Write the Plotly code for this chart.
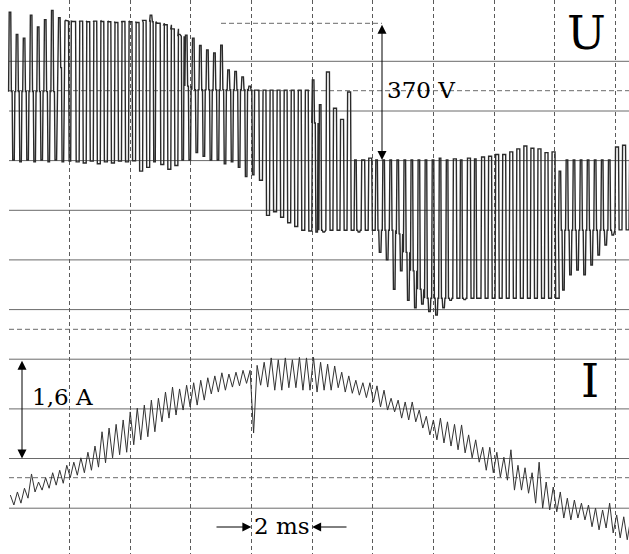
import plotly.graph_objects as go

# ---------------- data ----------------
# carrier (switching) period of the inverter, ms
carrier_period_ms = 0.2323

# U: per switching cycle -> resting level, upward excursion, downward excursion (V)
u_base = [185, 185, 185, 185, 185, 185, 185, 250, 376, 375,
          376, 374, 376, 375, 374, 372, 375, 374, 372, 378,
          374, 370, 366, 355, 335, 200, 190, 190, 190, 190,
          190, 190, 190, 190, 189, 189, 189, 189, 189, 189,
          189, 189, 189, 100, -190, -190, -190, -190, -190, -190,
          -190, -190, -190, -190, -190, -200, -250, -300, -350, -374,
          -374, -374, -374, -374, -374, -374, -374, -374, -374, -374,
          -374, -374, -374, -374, -374, -374, -374, -374, -190, -190,
          -190, -190, -190, -190, -190, -190, -189, -189, -189]
u_hi = [400, 340, 330, 392, 360, 380, 405, 385, 378, 375,
        376, 374, 376, 375, 374, 372, 375, 374, 372, 378,
        392, 370, 366, 355, 340, 338, 330, 310, 298, 290,
        311, 244, 240, 225, 200, 189, 189, 189, 189, 189,
        189, 189, 189, 217, 150, 238, 140, 110, 184, 0,
        0, 5, 0, 0, 0, 0, 0, 0, 0, 0,
        0, 5, 0, 3, 0, 5, 3, 8, 10, 15,
        15, 22, 30, 38, 32, 30, 20, 22, -30, 0,
        0, 0, 0, 0, 0, 0, 35, 40, 0]
u_lo = [0, -5, 0, -5, 0, -5, 0, -5, -3, -5,
        -8, -3, -10, -5, -8, -3, -5, -2, -30, -20,
        -5, -12, -25, -15, 0, 0, 20, 10, 0, 0,
        -10, -5, -20, -45, -40, -55, -150, -140, -155, -170,
        -180, -190, -192, -195, -195, -190, -190, -190, -190, -195,
        -190, -190, -250, -270, -350, -300, -380, -400, -390, -410,
        -420, -400, -380, -374, -378, -374, -376, -374, -374, -374,
        -374, -374, -374, -374, -374, -374, -374, -374, -352, -311,
        -298, -311, -284, -257, -230, -203, -189, -189, -189]

# I: per switching cycle -> ripple maximum and minimum (A)
i_hi = [-0.28, -0.23, -0.17, 0.06, -0.07, 0.00, 0.08, 0.12, 0.20, 0.25,
        0.32, 0.41, 0.51, 0.74, 0.80, 0.86, 0.93, 1.06, 1.12, 1.17,
        1.25, 1.28, 1.38, 1.46, 1.43, 1.49, 1.53, 1.57, 1.61, 1.64,
        1.69, 1.67, 1.70, 1.73, 1.73, 1.81, 1.86, 1.93, 1.90, 1.93,
        1.90, 1.94, 1.93, 1.94, 1.86, 1.83, 1.80, 1.70, 1.64, 1.57,
        1.53, 1.53, 1.48, 1.41, 1.28, 1.25, 1.22, 1.22, 1.09, 0.99,
        0.93, 0.96, 0.90, 0.86, 0.85, 0.69, 0.61, 0.49, 0.49, 0.41,
        0.33, 0.45, 0.20, 0.16, 0.08, 0.25, -0.07, -0.15, -0.23, -0.33,
        -0.36, -0.41, -0.44, -0.49, -0.52, -0.41, -0.60, -0.63, -0.65]
i_lo = [-0.44, -0.41, -0.33, -0.23, -0.20, -0.17, -0.12, -0.09, 0.00, 0.04,
        0.08, 0.12, 0.17, 0.24, 0.32, 0.37, 0.41, 0.53, 0.61, 0.66,
        0.74, 0.90, 0.96, 1.01, 1.09, 1.14, 1.17, 1.25, 1.35, 1.38,
        1.41, 1.46, 1.48, 1.52, 0.72, 1.49, 1.46, 1.41, 1.41, 1.45,
        1.45, 1.41, 1.41, 1.38, 1.41, 1.41, 1.45, 1.38, 1.36, 1.33,
        1.29, 1.22, 1.14, 1.09, 1.06, 0.96, 0.93, 0.90, 0.80, 0.69,
        0.61, 0.56, 0.51, 0.45, 0.40, 0.32, 0.25, 0.12, 0.08, 0.01,
        -0.04, -0.20, -0.20, -0.25, -0.41, -0.49, -0.52, -0.55, -0.65, -0.68,
        -0.65, -0.68, -0.79, -0.84, -0.81, -0.89, -0.97, -1.00, -0.81]

labels = {"u": "U", "i": "I", "u_scale": "370 V", "i_scale": "1,6 A", "t_scale": "2 ms"}
u_scale_v = 370
i_scale_a = 1.6
t_div_ms = 2

# ---------------- geometry of the picture ----------------
W, H = 629, 554
X0_PX = 8.6                 # t = 0
PX_PER_MS = 60.7 / 2
U0_PX = 160.0               # 0 V
PX_PER_V = 136.7 / 370
I0_PX = 477.7               # 0 A
PX_PER_A = 99.3 / 1.6

x_rng = [(0 - X0_PX) / PX_PER_MS, (W - X0_PX) / PX_PER_MS]
u_rng = [(U0_PX - H) / PX_PER_V, U0_PX / PX_PER_V]
i_rng = [(I0_PX - H) / PX_PER_A, I0_PX / PX_PER_A]


def t_of(px):
    return (px - X0_PX) / PX_PER_MS


def py(px):
    return 1 - px / H


# ---------------- build traces ----------------
P = carrier_period_ms
e = 0.02
ut, uv = [], []
for k, (b, h, l) in enumerate(zip(u_base, u_hi, u_lo)):
    t0 = k * P
    two_level = (b == h) or (b == l)
    w = 0.42 * P if two_level else 0.22 * P
    ut += [t0, t0 + e, t0 + e + w, t0 + 2 * e + w,
           t0 + 0.5 * P, t0 + 0.5 * P + e, t0 + 0.5 * P + e + w, t0 + 0.5 * P + 2 * e + w]
    uv += [b, h, h, b, b, l, l, b]

it, iv = [], []
for k, (h, l) in enumerate(zip(i_hi, i_lo)):
    it += [k * P + 0.25 * P, k * P + 0.75 * P]
    iv += [h, l]

fig = go.Figure()
fig.add_trace(go.Scatter(x=ut, y=uv, mode="lines", line=dict(color="#2a2a2a", width=1.4),
                         yaxis="y", hoverinfo="skip", showlegend=False))
fig.add_trace(go.Scatter(x=it, y=iv, mode="lines", line=dict(color="#333333", width=1),
                         yaxis="y2", hoverinfo="skip", showlegend=False))

# ---------------- grid ----------------
shapes = []
solid_px = [61.3, 111.0, 160.6, 210.3, 259.9, 309.6, 359.2, 408.9, 458.5, 508.2]
dashed_px = [90.7, 329.3, 477.7]
for p in solid_px:
    shapes.append(dict(type="line", xref="x", yref="paper", x0=t_of(9), x1=x_rng[1],
                       y0=py(p), y1=py(p), line=dict(color="#6a6a6a", width=1), layer="below"))
for p in dashed_px:
    shapes.append(dict(type="line", xref="x", yref="paper", x0=t_of(9), x1=x_rng[1],
                       y0=py(p), y1=py(p), line=dict(color="#6a6a6a", width=1, dash="5px,3px"),
                       layer="below"))
shapes.append(dict(type="line", xref="x", yref="paper", x0=t_of(221), x1=t_of(382),
                   y0=py(23.3), y1=py(23.3), line=dict(color="#6a6a6a", width=1, dash="5px,3px"),
                   layer="below"))

serif = "DejaVu Serif"
ann = []
ann.append(dict(text=labels["u"], x=586 / W, y=py(33), xref="paper", yref="paper",
                showarrow=False, font=dict(family=serif, size=46, color="black"),
                xanchor="center", yanchor="middle"))
ann.append(dict(text=labels["i"], x=590 / W, y=py(381), xref="paper", yref="paper",
                showarrow=False, font=dict(family=serif, size=46, color="black"),
                xanchor="center", yanchor="middle"))
ann.append(dict(text=labels["u_scale"], x=421 / W, y=py(90), xref="paper", yref="paper",
                showarrow=False, font=dict(family=serif, size=23, color="black"),
                xanchor="center", yanchor="middle"))
ann.append(dict(text=labels["i_scale"], x=62 / W, y=py(397), xref="paper", yref="paper",
                showarrow=False, font=dict(family=serif, size=23, color="black"),
                xanchor="center", yanchor="middle"))
ann.append(dict(text=labels["t_scale"], x=282 / W, y=py(526), xref="paper", yref="paper",
                showarrow=False, font=dict(family=serif, size=23, color="black"),
                xanchor="center", yanchor="middle"))

arrow_style = dict(showarrow=True, text="", arrowhead=2, arrowsize=1.8, arrowwidth=1,
                   arrowcolor="black", standoff=0, startstandoff=0)
# 370 V scale arrow
ann.append(dict(x=t_of(382), y=0, xref="x", yref="y", ax=t_of(382), ay=u_scale_v,
                axref="x", ayref="y", arrowside="end+start", startarrowhead=2,
                startarrowsize=1.8, **arrow_style))
# 1,6 A scale arrow
i_top = (I0_PX - 359.2) / PX_PER_A
ann.append(dict(x=t_of(22), y=i_top - i_scale_a, xref="x", yref="y2", ax=t_of(22), ay=i_top,
                axref="x", ayref="y2", arrowside="end+start", startarrowhead=2,
                startarrowsize=1.8, **arrow_style))
# 2 ms arrows
y_ms = (U0_PX - 527) / PX_PER_V
ann.append(dict(x=8, y=y_ms, xref="x", yref="y", ax=t_of(215), ay=y_ms,
                axref="x", ayref="y", **arrow_style))
ann.append(dict(x=8 + t_div_ms, y=y_ms, xref="x", yref="y", ax=t_of(348), ay=y_ms,
                axref="x", ayref="y", **arrow_style))

fig.update_layout(
    width=W, height=H, margin=dict(l=0, r=0, t=0, b=0),
    paper_bgcolor="white", plot_bgcolor="white",
    showlegend=False, shapes=shapes, annotations=ann,
    xaxis=dict(range=x_rng, tickmode="array", tickvals=list(range(2, 21, 2)),
               showticklabels=False, ticks="", showgrid=True, gridcolor="#5a5a5a",
               gridwidth=1, griddash="4px,3px", zeroline=False, showline=False),
    yaxis=dict(range=u_rng, showgrid=False, zeroline=False, showticklabels=False,
               ticks="", showline=False),
    yaxis2=dict(range=i_rng, overlaying="y", showgrid=False, zeroline=False,
                showticklabels=False, ticks="", showline=False),
)

fig.write_html("out.html")
